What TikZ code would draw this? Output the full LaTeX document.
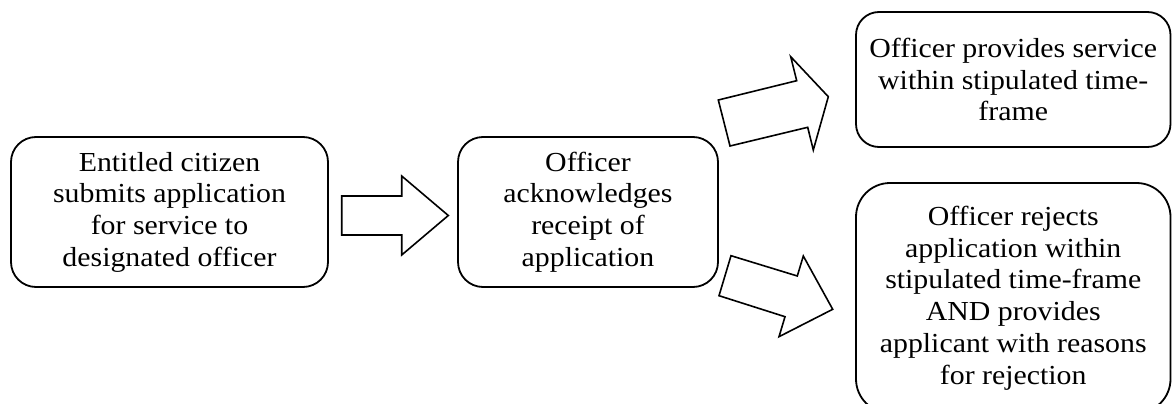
\documentclass[tikz,border=0pt]{standalone}
\usepackage{fontspec}
\setmainfont{Liberation Serif}[FakeStretch=1.085]
\begin{document}
\begin{tikzpicture}[x=1pt,y=-1pt,
  box/.style={draw,line width=1.8pt,rounded corners=#1,align=center,inner sep=0pt,
    font=\fontsize{27.5}{31.7}\selectfont},
  blockarrow/.style={draw,line width=1.6pt,line join=miter}]
\useasboundingbox (0,0) rectangle (1172,404);
\clip (0,0) rectangle (1172,404);
\node[box=25pt,minimum width=317pt,minimum height=150pt] (b1) at (169.5,212)
  {Entitled citizen\\submits application\\for service to\\designated officer};
\node[box=25pt,minimum width=260pt,minimum height=150pt] (b2) at (588,212)
  {Officer\\acknowledges\\receipt of\\application};
\node[box=23pt,minimum width=314.5pt,minimum height=135pt] (b3) at (1013.25,79.5)
  {Officer provides service\\within stipulated time-\\frame};
\node[box=34pt,minimum width=314.5pt,minimum height=230pt] (b4) at (1013.25,298)
  {Officer rejects\\application within\\stipulated time-frame\\AND provides\\applicant with reasons\\for rejection};
% block arrows
\draw[blockarrow] (341.7,196) -- (401.7,196) -- (401.7,176) -- (448.3,215.5)
  -- (401.7,255) -- (401.7,235) -- (341.7,235) -- cycle;
\draw[blockarrow] (718.3,100) -- (796.7,80.7) -- (790.7,56.7) -- (828.3,96.7)
  -- (813.3,150) -- (807.7,127.3) -- (730,146) -- cycle;
\draw[blockarrow] (731,255.7) -- (797.3,276) -- (803.3,256) -- (832.7,309.3)
  -- (779,336.7) -- (785,316.7) -- (719,295.7) -- cycle;
\end{tikzpicture}
\end{document}
